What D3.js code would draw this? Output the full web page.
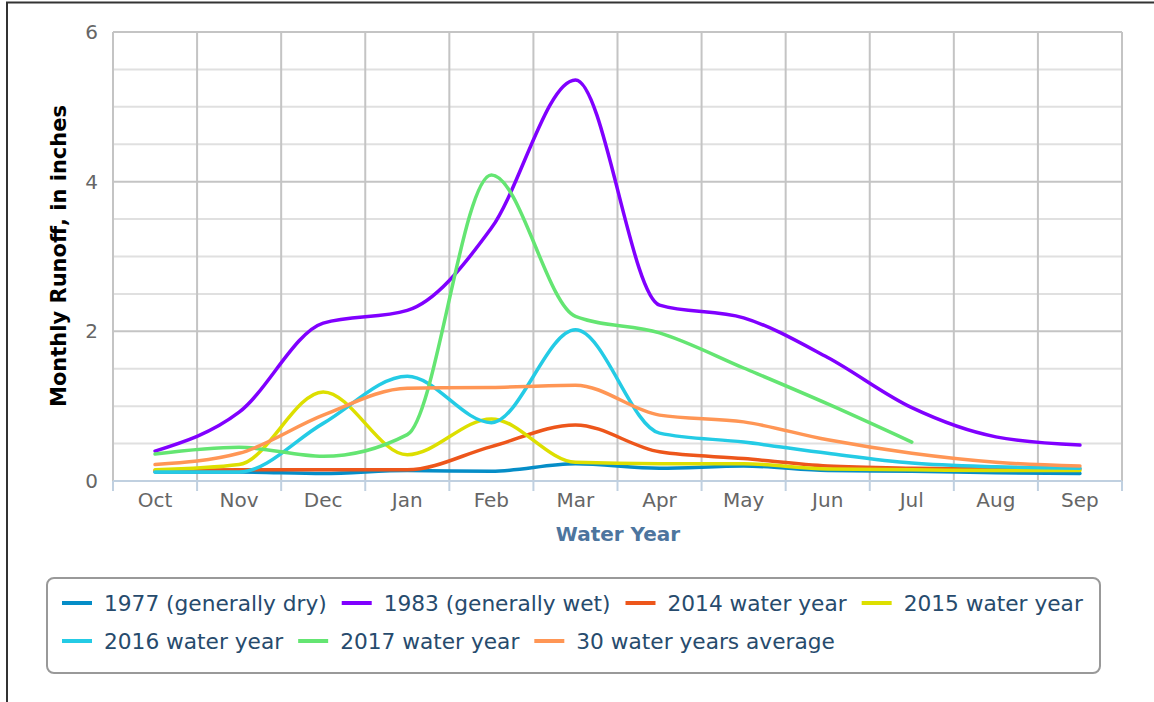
<!DOCTYPE html>
<html>
<head>
<meta charset="utf-8">
<script src="https://cdn.jsdelivr.net/npm/d3@7"></script>
<style>
  body { margin: 0; background: #fff; }
  text { font-family: "DejaVu Sans", Verdana, sans-serif; }
</style>
</head>
<body>
<script>
var months = ["Oct", "Nov", "Dec", "Jan", "Feb", "Mar", "Apr", "May", "Jun", "Jul", "Aug", "Sep"];
var yTicks = [0, 2, 4, 6];

// monthly runoff, inches
var dry1977 = [0.12, 0.12, 0.10, 0.14, 0.13, 0.23, 0.17, 0.20, 0.14, 0.13, 0.11, 0.10];
var wet1983 = [0.40, 0.92, 2.11, 2.28, 3.38, 5.36, 2.35, 2.18, 1.65, 0.98, 0.59, 0.48];
var wy2014 = [0.14, 0.15, 0.15, 0.15, 0.46, 0.75, 0.39, 0.30, 0.20, 0.17, 0.16, 0.16];
var wy2015 = [0.15, 0.22, 1.19, 0.35, 0.83, 0.25, 0.23, 0.23, 0.16, 0.15, 0.14, 0.14];
var wy2016 = [0.12, 0.12, 0.77, 1.40, 0.78, 2.02, 0.64, 0.52, 0.37, 0.24, 0.19, 0.17];
var wy2017 = [0.36, 0.45, 0.33, 0.62, 4.09, 2.20, 1.98, 1.51, 1.03, 0.52, null, null];
var avg30 = [0.22, 0.37, 0.88, 1.24, 1.25, 1.28, 0.88, 0.79, 0.55, 0.37, 0.25, 0.20];

var seriesNames = ["1977 (generally dry)", "1983 (generally wet)", "2014 water year", "2015 water year",
                   "2016 water year", "2017 water year", "30 water years average"];
var seriesValues = [dry1977, wet1983, wy2014, wy2015, wy2016, wy2017, avg30];
var seriesColors = ["#058DC7", "#8000FF", "#ED561B", "#DDDF00", "#24CBE5", "#64E572", "#FF9655"];

var width = 1154, height = 702;
var plotLeft = 113, plotRight = 1122, plotTop = 32, plotBottom = 481;

var svg = d3.select("body").append("svg")
    .attr("width", width)
    .attr("height", height);

// page frame
svg.append("path")
    .attr("d", "M7,702 L7,2.5 L1154,2.5")
    .style("fill", "none")
    .style("stroke", "#333")
    .style("stroke-width", 2);

var x = d3.scaleBand().domain(months).range([plotLeft, plotRight]);
var y = d3.scaleLinear().domain([0, 6]).range([plotBottom, plotTop]);

// minor grid every 0.5
var grid = svg.append("g");
grid.selectAll("line.minor")
    .data(d3.range(0.5, 6, 0.5).filter(function(d){ return d % 2 !== 0; }))
  .enter().append("line")
    .attr("x1", plotLeft).attr("x2", plotRight)
    .attr("y1", function(d){ return y(d); })
    .attr("y2", function(d){ return y(d); })
    .style("stroke", "#e0e0e0")
    .style("stroke-width", 2);

grid.selectAll("line.major")
    .data(yTicks.slice(1))
  .enter().append("line")
    .attr("x1", plotLeft).attr("x2", plotRight)
    .attr("y1", function(d){ return y(d); })
    .attr("y2", function(d){ return y(d); })
    .style("stroke", "#c4c4c4")
    .style("stroke-width", 2);

var bounds = months.map(function(m){ return x(m); }).concat([plotRight]);
grid.selectAll("line.vert")
    .data(bounds)
  .enter().append("line")
    .attr("x1", function(d){ return d; })
    .attr("x2", function(d){ return d; })
    .attr("y1", plotTop).attr("y2", plotBottom)
    .style("stroke", "#c4c4c4")
    .style("stroke-width", 2);

// x axis line and ticks
svg.append("line")
    .attr("x1", plotLeft).attr("x2", plotRight)
    .attr("y1", plotBottom).attr("y2", plotBottom)
    .style("stroke", "#c0d0e0")
    .style("stroke-width", 2);
svg.selectAll("line.xtick")
    .data(bounds)
  .enter().append("line")
    .attr("x1", function(d){ return d; })
    .attr("x2", function(d){ return d; })
    .attr("y1", plotBottom).attr("y2", plotBottom + 10)
    .style("stroke", "#c0d0e0")
    .style("stroke-width", 2);

svg.selectAll("text.xlabel")
    .data(months)
  .enter().append("text")
    .attr("x", function(d){ return x(d) + x.bandwidth() / 2; })
    .attr("y", 507)
    .style("text-anchor", "middle")
    .style("font-size", "20px")
    .style("fill", "#666")
    .text(function(d){ return d; });

svg.selectAll("text.ylabel")
    .data(yTicks)
  .enter().append("text")
    .attr("x", 98)
    .attr("y", function(d){ return y(d) + 7; })
    .style("text-anchor", "end")
    .style("font-size", "20px")
    .style("fill", "#666")
    .text(function(d){ return d; });

// axis titles
svg.append("text")
    .attr("x", 618)
    .attr("y", 541)
    .style("text-anchor", "middle")
    .style("font-size", "20px")
    .style("font-weight", "bold")
    .style("fill", "#4d759e")
    .text("Water Year");

svg.append("text")
    .attr("transform", "translate(66,256) rotate(-90)")
    .style("text-anchor", "middle")
    .style("font-size", "21px")
    .style("font-weight", "bold")
    .style("fill", "#000")
    .text("Monthly Runoff, in inches");

// series
var line = d3.line()
    .defined(function(d){ return d !== null; })
    .x(function(d, i){ return x(months[i]) + x.bandwidth() / 2; })
    .y(function(d){ return y(d); })
    .curve(d3.curveMonotoneX);

svg.append("g").selectAll("path.series")
    .data(seriesValues)
  .enter().append("path")
    .attr("d", line)
    .style("fill", "none")
    .style("stroke", function(d, i){ return seriesColors[i]; })
    .style("stroke-width", 3.5)
    .style("stroke-linejoin", "round")
    .style("stroke-linecap", "round");

// legend
svg.append("rect")
    .attr("x", 47).attr("y", 578)
    .attr("width", 1053).attr("height", 95)
    .attr("rx", 7)
    .style("fill", "#fff")
    .style("stroke", "#999")
    .style("stroke-width", 2);

var legend = svg.append("g");
var lx = 62, ly = 0;
var rows = [611, 649];
seriesNames.forEach(function(name, i){
    var item = legend.append("g");
    var t = item.append("text")
        .attr("x", 42)
        .style("font-size", "21.7px")
        .style("fill", "#274b6d")
        .text(name);
    var w = 42 + t.node().getComputedTextLength();
    if ( lx + w > 1092 ) {
        lx = 62;
        ly++;
    }
    item.attr("transform", "translate(" + lx + "," + rows[ly] + ")");
    item.append("line")
        .attr("x1", 0).attr("x2", 30)
        .attr("y1", -8).attr("y2", -8)
        .style("stroke", seriesColors[i])
        .style("stroke-width", 4);
    lx += w + 15;
});
</script>
</body>
</html>
